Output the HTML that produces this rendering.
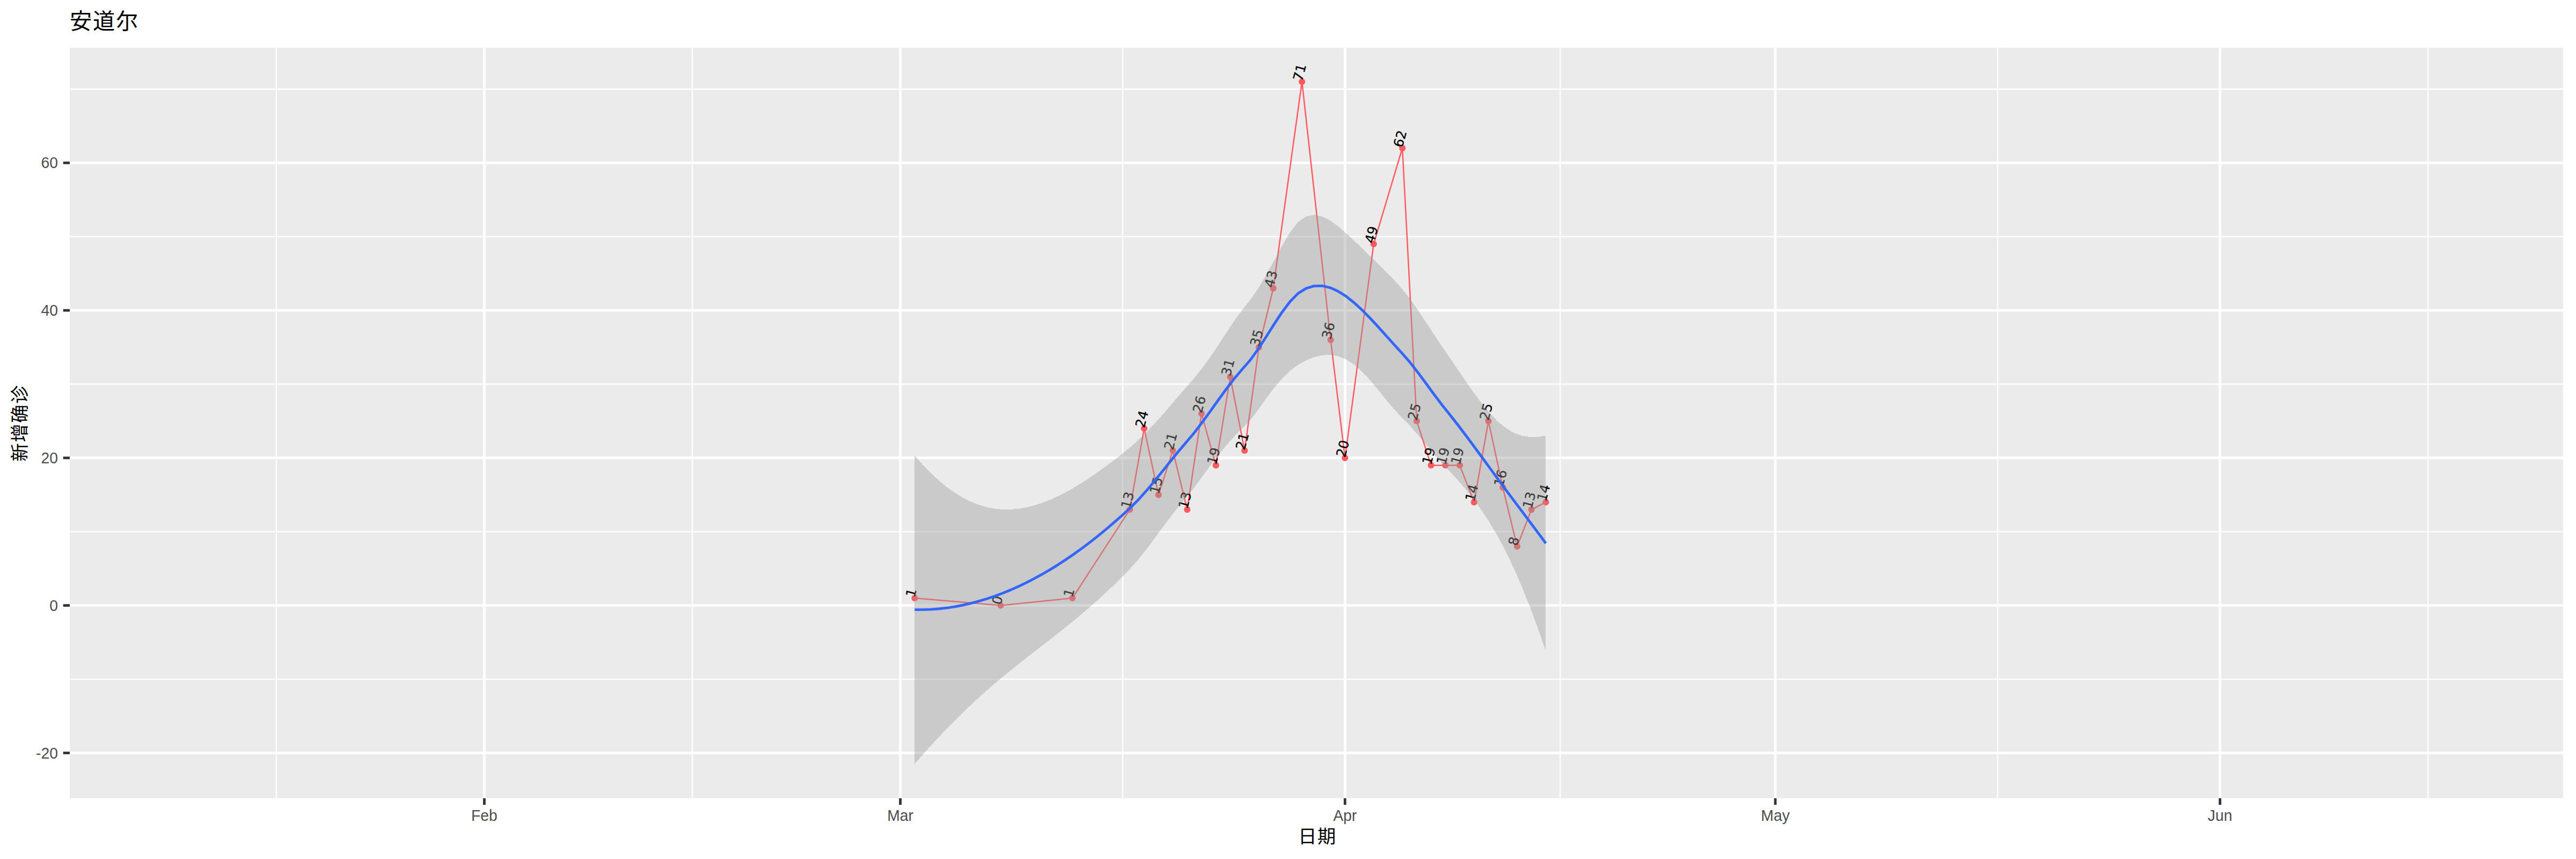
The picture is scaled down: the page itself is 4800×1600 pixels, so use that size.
<!DOCTYPE html>
<html lang="zh"><head><meta charset="utf-8"><title>安道尔</title>
<style>html,body{margin:0;padding:0;background:#fff;}svg{display:block;}.ax{font-family:"Liberation Sans",sans-serif;font-size:28.3px;fill:#4D4D4D;}.cj{font-family:"Liberation Sans","Noto Sans CJK JP","Noto Sans CJK SC",sans-serif;fill:#000;letter-spacing:0.043em;}.lb{font-family:"DejaVu Sans","Liberation Sans",sans-serif;font-size:24.7px;font-style:normal;fill:#000;stroke:#000;stroke-width:0.3px;}</style></head><body>
<svg width="4800" height="1600" viewBox="0 0 4800 1600">
<rect x="0" y="0" width="4800" height="1600" fill="#FFFFFF"/>
<rect x="130" y="89" width="4646" height="1397.8" fill="#EBEBEB"/>
<g stroke="#FFFFFF" stroke-width="2.35" fill="none">
<line x1="130" x2="4776" y1="1265.08" y2="1265.08"/>
<line x1="130" x2="4776" y1="990.30" y2="990.30"/>
<line x1="130" x2="4776" y1="715.52" y2="715.52"/>
<line x1="130" x2="4776" y1="440.74" y2="440.74"/>
<line x1="130" x2="4776" y1="165.96" y2="165.96"/>
<line x1="514.89" x2="514.89" y1="89" y2="1486.8"/>
<line x1="1290.03" x2="1290.03" y1="89" y2="1486.8"/>
<line x1="2091.90" x2="2091.90" y1="89" y2="1486.8"/>
<line x1="2907.13" x2="2907.13" y1="89" y2="1486.8"/>
<line x1="3722.37" x2="3722.37" y1="89" y2="1486.8"/>
<line x1="4524.24" x2="4524.24" y1="89" y2="1486.8"/>
</g>
<g stroke="#FFFFFF" stroke-width="4.8" fill="none">
<line x1="130" x2="4776" y1="1402.47" y2="1402.47"/>
<line x1="130" x2="4776" y1="1127.69" y2="1127.69"/>
<line x1="130" x2="4776" y1="852.91" y2="852.91"/>
<line x1="130" x2="4776" y1="578.13" y2="578.13"/>
<line x1="130" x2="4776" y1="303.35" y2="303.35"/>
<line x1="902.46" x2="902.46" y1="89" y2="1486.8"/>
<line x1="1677.60" x2="1677.60" y1="89" y2="1486.8"/>
<line x1="2506.20" x2="2506.20" y1="89" y2="1486.8"/>
<line x1="3308.07" x2="3308.07" y1="89" y2="1486.8"/>
<line x1="4136.67" x2="4136.67" y1="89" y2="1486.8"/>
</g>
<polyline points="1704.33,1113.95 1864.70,1127.69 1998.35,1113.95 2105.26,949.08 2131.99,797.95 2158.72,921.61 2185.45,839.17 2212.18,949.08 2238.91,770.48 2265.64,866.65 2292.37,701.78 2319.10,839.17 2345.82,646.83 2372.55,536.91 2426.01,152.22 2479.47,633.09 2506.20,852.91 2559.66,454.48 2613.11,275.87 2639.84,784.22 2666.57,866.65 2693.30,866.65 2720.03,866.65 2746.76,935.34 2773.49,784.22 2800.22,907.87 2826.95,1017.78 2853.68,949.08 2880.40,935.34" fill="none" stroke="#FF5A5F" stroke-width="2.5" stroke-linejoin="round" stroke-linecap="butt"/>
<g fill="#FF5A5F">
<circle cx="1704.33" cy="1113.95" r="6.1"/>
<circle cx="1864.70" cy="1127.69" r="6.1"/>
<circle cx="1998.35" cy="1113.95" r="6.1"/>
<circle cx="2105.26" cy="949.08" r="6.1"/>
<circle cx="2131.99" cy="797.95" r="6.1"/>
<circle cx="2158.72" cy="921.61" r="6.1"/>
<circle cx="2185.45" cy="839.17" r="6.1"/>
<circle cx="2212.18" cy="949.08" r="6.1"/>
<circle cx="2238.91" cy="770.48" r="6.1"/>
<circle cx="2265.64" cy="866.65" r="6.1"/>
<circle cx="2292.37" cy="701.78" r="6.1"/>
<circle cx="2319.10" cy="839.17" r="6.1"/>
<circle cx="2345.82" cy="646.83" r="6.1"/>
<circle cx="2372.55" cy="536.91" r="6.1"/>
<circle cx="2426.01" cy="152.22" r="6.1"/>
<circle cx="2479.47" cy="633.09" r="6.1"/>
<circle cx="2506.20" cy="852.91" r="6.1"/>
<circle cx="2559.66" cy="454.48" r="6.1"/>
<circle cx="2613.11" cy="275.87" r="6.1"/>
<circle cx="2639.84" cy="784.22" r="6.1"/>
<circle cx="2666.57" cy="866.65" r="6.1"/>
<circle cx="2693.30" cy="866.65" r="6.1"/>
<circle cx="2720.03" cy="866.65" r="6.1"/>
<circle cx="2746.76" cy="935.34" r="6.1"/>
<circle cx="2773.49" cy="784.22" r="6.1"/>
<circle cx="2800.22" cy="907.87" r="6.1"/>
<circle cx="2826.95" cy="1017.78" r="6.1"/>
<circle cx="2853.68" cy="949.08" r="6.1"/>
<circle cx="2880.40" cy="935.34" r="6.1"/>
</g>
<g class="lb">
<text transform="translate(1704.33 1113.95) rotate(-75)" x="0" y="0">1</text>
<text transform="translate(1864.70 1127.69) rotate(-75)" x="0" y="0">0</text>
<text transform="translate(1998.35 1113.95) rotate(-75)" x="0" y="0">1</text>
<text transform="translate(2105.26 949.08) rotate(-75)" x="0" y="0">13</text>
<text transform="translate(2131.99 797.95) rotate(-75)" x="0" y="0">24</text>
<text transform="translate(2158.72 921.61) rotate(-75)" x="0" y="0">15</text>
<text transform="translate(2185.45 839.17) rotate(-75)" x="0" y="0">21</text>
<text transform="translate(2212.18 949.08) rotate(-75)" x="0" y="0">13</text>
<text transform="translate(2238.91 770.48) rotate(-75)" x="0" y="0">26</text>
<text transform="translate(2265.64 866.65) rotate(-75)" x="0" y="0">19</text>
<text transform="translate(2292.37 701.78) rotate(-75)" x="0" y="0">31</text>
<text transform="translate(2319.10 839.17) rotate(-75)" x="0" y="0">21</text>
<text transform="translate(2345.82 646.83) rotate(-75)" x="0" y="0">35</text>
<text transform="translate(2372.55 536.91) rotate(-75)" x="0" y="0">43</text>
<text transform="translate(2426.01 152.22) rotate(-75)" x="0" y="0">71</text>
<text transform="translate(2479.47 633.09) rotate(-75)" x="0" y="0">36</text>
<text transform="translate(2506.20 852.91) rotate(-75)" x="0" y="0">20</text>
<text transform="translate(2559.66 454.48) rotate(-75)" x="0" y="0">49</text>
<text transform="translate(2613.11 275.87) rotate(-75)" x="0" y="0">62</text>
<text transform="translate(2639.84 784.22) rotate(-75)" x="0" y="0">25</text>
<text transform="translate(2666.57 866.65) rotate(-75)" x="0" y="0">19</text>
<text transform="translate(2693.30 866.65) rotate(-75)" x="0" y="0">19</text>
<text transform="translate(2720.03 866.65) rotate(-75)" x="0" y="0">19</text>
<text transform="translate(2746.76 935.34) rotate(-75)" x="0" y="0">14</text>
<text transform="translate(2773.49 784.22) rotate(-75)" x="0" y="0">25</text>
<text transform="translate(2800.22 907.87) rotate(-75)" x="0" y="0">16</text>
<text transform="translate(2826.95 1017.78) rotate(-75)" x="0" y="0">8</text>
<text transform="translate(2853.68 949.08) rotate(-75)" x="0" y="0">13</text>
<text transform="translate(2880.40 935.34) rotate(-75)" x="0" y="0">14</text>
</g>
<polygon points="1704.33,848.39 1719.22,865.41 1734.10,880.83 1748.99,894.67 1763.88,906.91 1778.76,917.57 1793.65,926.64 1808.54,934.15 1823.43,940.09 1838.31,944.50 1853.20,947.42 1868.09,948.87 1882.97,948.92 1897.86,947.63 1912.75,945.06 1927.63,941.31 1942.52,936.45 1957.41,930.57 1972.30,923.77 1987.18,916.13 2002.07,907.73 2016.96,898.64 2031.84,888.93 2046.73,878.67 2061.62,867.88 2076.50,856.62 2091.39,844.91 2106.28,832.76 2121.17,819.64 2136.05,805.22 2150.94,789.59 2165.83,772.96 2180.71,755.63 2195.60,738.12 2210.49,721.11 2225.38,704.12 2240.26,685.45 2255.15,664.98 2270.04,642.92 2284.92,620.01 2299.81,597.56 2314.70,577.28 2329.58,558.82 2344.47,537.14 2359.36,512.28 2374.25,485.13 2389.13,457.58 2404.02,432.50 2418.91,413.34 2433.79,403.06 2448.68,400.14 2463.57,403.09 2478.45,410.64 2493.34,421.49 2508.23,434.40 2523.12,448.34 2538.00,462.60 2552.89,476.86 2567.78,491.18 2582.66,505.86 2597.55,521.28 2612.44,537.79 2627.33,556.51 2642.21,577.69 2657.10,600.12 2671.99,622.83 2686.87,645.15 2701.76,666.81 2716.65,688.74 2731.53,710.63 2746.42,731.87 2761.31,751.82 2776.20,769.80 2791.08,785.16 2805.97,797.38 2820.86,806.18 2835.74,811.65 2850.63,814.08 2865.52,813.86 2880.40,811.38 2880.40,1212.75 2865.52,1169.87 2850.63,1129.79 2835.74,1092.66 2820.86,1058.57 2805.97,1027.54 2791.08,999.42 2776.20,974.05 2761.31,951.21 2746.42,930.58 2731.53,911.79 2716.65,894.49 2701.76,878.41 2686.87,863.03 2671.99,846.05 2657.10,828.05 2642.21,810.17 2627.33,793.29 2612.44,778.00 2597.55,762.11 2582.66,744.31 2567.78,725.86 2552.89,708.08 2538.00,692.17 2523.12,679.09 2508.23,669.46 2493.34,663.46 2478.45,660.98 2463.57,661.70 2448.68,665.22 2433.79,671.20 2418.91,679.47 2404.02,690.59 2389.13,704.81 2374.25,722.18 2359.36,742.14 2344.47,763.18 2329.58,782.80 2314.70,798.31 2299.81,813.20 2284.92,829.52 2270.04,847.54 2255.15,867.15 2240.26,887.66 2225.38,907.84 2210.49,926.20 2195.60,944.19 2180.71,963.25 2165.83,983.10 2150.94,1003.30 2136.05,1023.19 2121.17,1042.01 2106.28,1058.89 2091.39,1074.10 2076.50,1088.79 2061.62,1102.95 2046.73,1116.62 2031.84,1129.82 2016.96,1142.60 2002.07,1154.99 1987.18,1167.06 1972.30,1178.88 1957.41,1190.52 1942.52,1202.06 1927.63,1213.58 1912.75,1225.16 1897.86,1236.88 1882.97,1248.81 1868.09,1261.02 1853.20,1273.57 1838.31,1286.49 1823.43,1299.83 1808.54,1313.61 1793.65,1327.84 1778.76,1342.53 1763.88,1357.69 1748.99,1373.31 1734.10,1389.40 1719.22,1405.93 1704.33,1422.91" fill="#999999" fill-opacity="0.4" shape-rendering="crispEdges"/>
<polyline points="1704.33,1135.65 1719.22,1135.67 1734.10,1135.12 1748.99,1133.99 1763.88,1132.30 1778.76,1130.05 1793.65,1127.24 1808.54,1123.88 1823.43,1119.96 1838.31,1115.50 1853.20,1110.49 1868.09,1104.95 1882.97,1098.87 1897.86,1092.25 1912.75,1085.11 1927.63,1077.44 1942.52,1069.25 1957.41,1060.55 1972.30,1051.32 1987.18,1041.59 2002.07,1031.36 2016.96,1020.62 2031.84,1009.38 2046.73,997.64 2061.62,985.42 2076.50,972.70 2091.39,959.51 2106.28,945.82 2121.17,930.82 2136.05,914.20 2150.94,896.45 2165.83,878.03 2180.71,859.44 2195.60,841.15 2210.49,823.65 2225.38,805.98 2240.26,786.55 2255.15,766.07 2270.04,745.23 2284.92,724.76 2299.81,705.38 2314.70,687.79 2329.58,670.81 2344.47,650.16 2359.36,627.21 2374.25,603.65 2389.13,581.20 2404.02,561.54 2418.91,546.40 2433.79,537.13 2448.68,532.68 2463.57,532.39 2478.45,535.81 2493.34,542.47 2508.23,551.93 2523.12,563.72 2538.00,577.38 2552.89,592.47 2567.78,608.52 2582.66,625.08 2597.55,641.69 2612.44,657.90 2627.33,674.90 2642.21,693.93 2657.10,714.08 2671.99,734.44 2686.87,754.09 2701.76,772.61 2716.65,791.62 2731.53,811.21 2746.42,831.23 2761.31,851.52 2776.20,871.92 2791.08,892.29 2805.97,912.46 2820.86,932.38 2835.74,952.15 2850.63,971.94 2865.52,991.86 2880.40,1012.07" fill="none" stroke="#3366FF" stroke-width="4.9" stroke-linejoin="round" stroke-linecap="butt"/>
<g stroke="#333333" stroke-width="4.8">
<line x1="117.7" x2="130" y1="1402.47" y2="1402.47"/>
<line x1="117.7" x2="130" y1="1127.69" y2="1127.69"/>
<line x1="117.7" x2="130" y1="852.91" y2="852.91"/>
<line x1="117.7" x2="130" y1="578.13" y2="578.13"/>
<line x1="117.7" x2="130" y1="303.35" y2="303.35"/>
<line x1="902.46" x2="902.46" y1="1486.8" y2="1499.1"/>
<line x1="1677.60" x2="1677.60" y1="1486.8" y2="1499.1"/>
<line x1="2506.20" x2="2506.20" y1="1486.8" y2="1499.1"/>
<line x1="3308.07" x2="3308.07" y1="1486.8" y2="1499.1"/>
<line x1="4136.67" x2="4136.67" y1="1486.8" y2="1499.1"/>
</g>
<g class="ax">
<text transform="translate(107.9 1412.57) scale(1 1.06)" text-anchor="end">-20</text>
<text transform="translate(107.9 1137.79) scale(1 1.06)" text-anchor="end">0</text>
<text transform="translate(107.9 863.01) scale(1 1.06)" text-anchor="end">20</text>
<text transform="translate(107.9 588.23) scale(1 1.06)" text-anchor="end">40</text>
<text transform="translate(107.9 313.45) scale(1 1.06)" text-anchor="end">60</text>
<text transform="translate(902.46 1529) scale(1 1.06)" text-anchor="middle">Feb</text>
<text transform="translate(1677.60 1529) scale(1 1.06)" text-anchor="middle">Mar</text>
<text transform="translate(2506.20 1529) scale(1 1.06)" text-anchor="middle">Apr</text>
<text transform="translate(3308.07 1529) scale(1 1.06)" text-anchor="middle">May</text>
<text transform="translate(4136.67 1529) scale(1 1.06)" text-anchor="middle">Jun</text>
</g>
<text class="cj" lang="ja" x="130" y="54" font-size="41.25">安道尔</text>
<text class="cj" x="2454.8" y="1570" font-size="34.4" text-anchor="middle">日期</text>
<text class="cj" transform="translate(49 787.9) rotate(-90)" font-size="34.4" text-anchor="middle">新增确诊</text>
</svg></body></html>
